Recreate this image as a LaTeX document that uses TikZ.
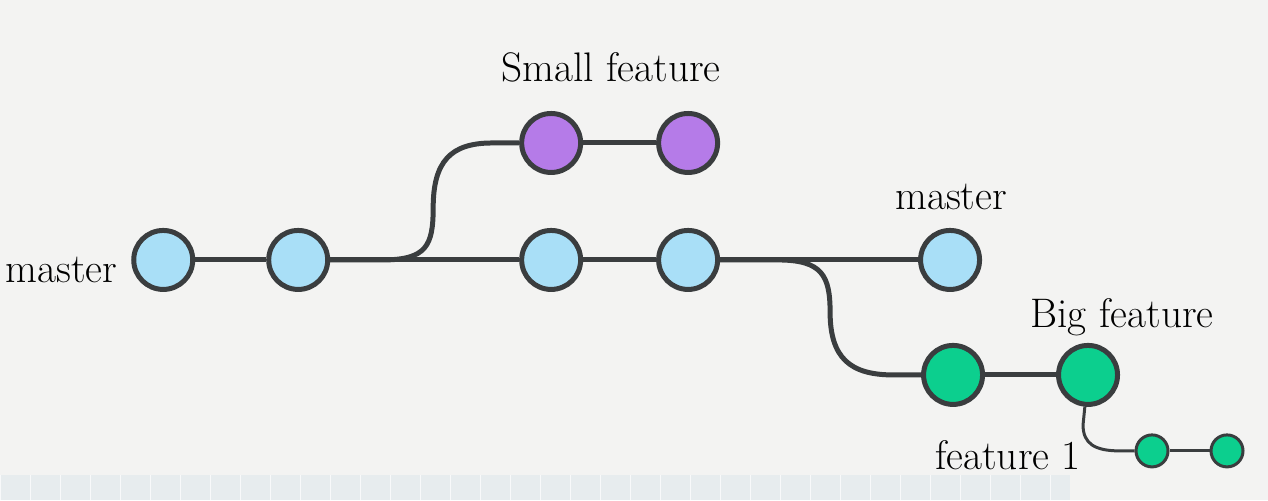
\documentclass[tikz,border=0pt]{standalone}
\usetikzlibrary{positioning}
\definecolor{paper}{HTML}{F3F3F2}
\definecolor{strip}{HTML}{E7ECEE}
\definecolor{edge}{HTML}{3A3D3F}
\definecolor{mastercol}{HTML}{A9DFF7}
\definecolor{smallcol}{HTML}{B57BE8}
\definecolor{bigcol}{HTML}{0CCF8E}
\tikzset{
	commit/.style = {circle, draw = edge, line width = 0.1cm, minimum size = 1.18cm, inner sep = 0pt},
	tinycommit/.style = {circle, draw = edge, line width = 0.06cm, minimum size = 0.64cm, inner sep = 0pt, fill = bigcol},
	branch/.style = {draw = edge, line width = 0.1cm},
	thinbranch/.style = {draw = edge, line width = 0.06cm},
	tag/.style = {anchor = base, inner sep = 0pt, font = \fontsize{23.5}{28}\selectfont}
}
\begin{document}
\begin{tikzpicture}[x = 0.02cm, y = -0.02cm]
	% page
	\fill [paper] (0,0) rectangle (1268,500);
	\fill [strip] (0,475) rectangle (1070,500);
	\foreach \x in {0,30,...,1060}{
	\draw [white!70!strip, line width = 0.3pt] (\x,475) -- (\x,500);
	}
	% master
	\node [commit, fill = mastercol] (m1) at (163,260) {};
	\node [commit, fill = mastercol] (m2) at (298,260) {};
	\node [commit, fill = mastercol] (m3) at (551,260) {};
	\node [commit, fill = mastercol] (m4) at (688,260) {};
	\node [commit, fill = mastercol] (m5) at (950,260) {};
	% small feature
	\node [commit, fill = smallcol] (s1) at (551,143) {};
	\node [commit, fill = smallcol] (s2) at (688,143) {};
	% big feature
	\node [commit, fill = bigcol] (b1) at (953,375) {};
	\node [commit, fill = bigcol] (b2) at (1088,375) {};
	% feature 1
	\node [tinycommit] (f1) at (1152,451) {};
	\node [tinycommit] (f2) at (1227,451) {};
	\coordinate (fork1) at (382,260);
	\coordinate (fork2) at (778,260);
	\coordinate (fork3) at (1083,425);
	% branches
	\draw [branch] (m1) -- (m2) -- (m3) -- (m4) -- (m5);
	\draw [branch] (m2) -- (fork1) .. controls (426,260) and (433,246) .. (433,208)
		.. controls (433,162) and (450,143) .. (492,143) -- (s1);
	\draw [branch] (s1) -- (s2);
	\draw [branch] (m4) -- (fork2) .. controls (822,260) and (830,276) .. (830,312)
		.. controls (830,358) and (850,375) .. (893,375) -- (b1);
	\draw [branch] (b1) -- (b2);
	\draw [thinbranch] (b2) -- (fork3) .. controls (1083,444) and (1095,451) .. (1120,451) -- (f1);
	\draw [thinbranch] (f1) -- (f2);
	% labels
	\node [tag] (lmaster) at (61,283) {master};
	\node [tag] (lsmall) at (611,82) {Small feature};
	\node [tag] (lmaster2) at (951,210) {master};
	\node [tag] (lbig) at (1122,328) {Big feature};
	\node [tag] (lfeat) at (1008,470) {feature 1};
\end{tikzpicture}
\end{document}
